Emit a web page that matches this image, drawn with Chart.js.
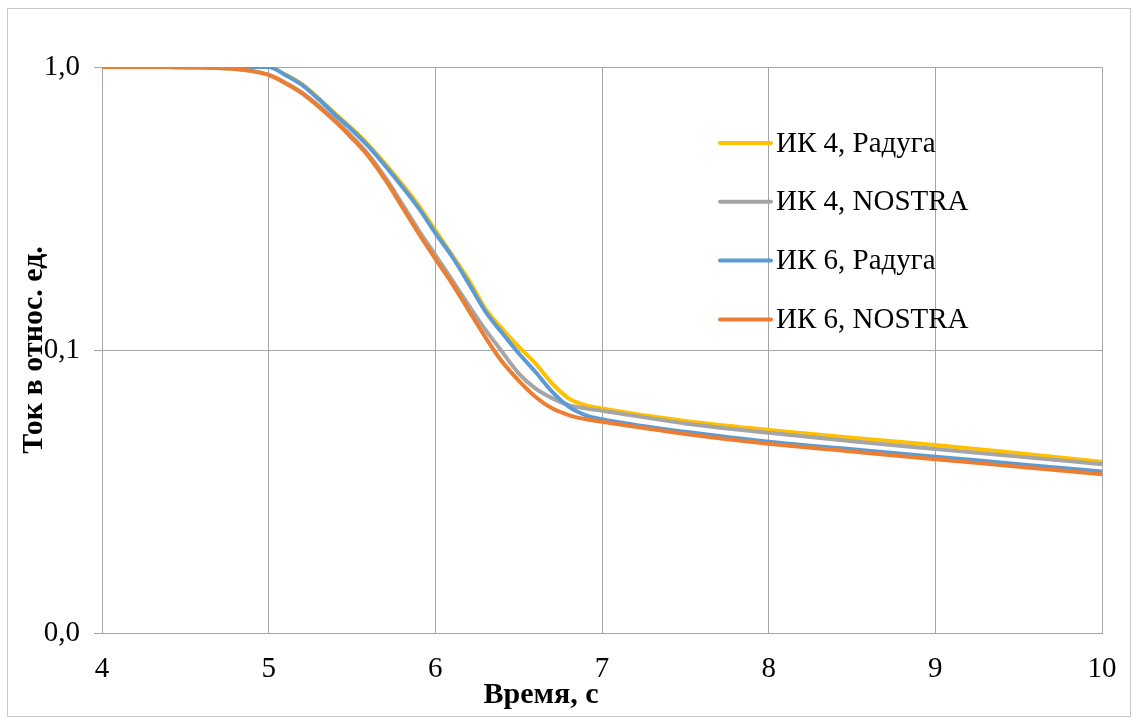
<!DOCTYPE html>
<html>
<head>
<meta charset="utf-8">
<title>Ток в относ. ед.</title>
<script src="https://cdn.jsdelivr.net/npm/chart.js@4.4.1/dist/chart.umd.min.js"></script>
<style>
  html, body { margin: 0; padding: 0; background: #fff; }
</style>
</head>
<body>
<canvas id="current_chart" width="1138" height="724"></canvas>
<script>
// time, s
let times = [4.0, 4.2, 4.4, 4.6, 4.7, 4.8, 4.9, 5.0, 5.1, 5.2, 5.3, 5.4, 5.5, 5.6, 5.7, 5.8, 5.9,
             6.0, 6.1, 6.2, 6.3, 6.4, 6.5, 6.6, 6.7, 6.8, 6.9, 7.0, 7.5, 8.0, 8.5, 9.0, 9.5, 10.0];

let ik4_raduga = [1.0, 1.0, 1.0, 1.0, 1.0, 1.0, 1.0, 1.0, 0.940, 0.870, 0.776, 0.684, 0.606, 0.530, 0.455, 0.386, 0.324,
                  0.265, 0.217, 0.177, 0.140, 0.119, 0.1027, 0.0897, 0.0763, 0.0675, 0.0639, 0.0622, 0.0561, 0.0522, 0.0490, 0.0462, 0.0432, 0.0403];
let ik4_nostra = [1.0, 1.0, 0.999, 0.996, 0.991, 0.984, 0.969, 0.939, 0.880, 0.812, 0.731, 0.648, 0.568, 0.490, 0.407, 0.329, 0.265,
                  0.217, 0.177, 0.144, 0.118, 0.0987, 0.0827, 0.0732, 0.0676, 0.0639, 0.0622, 0.0610, 0.0550, 0.0510, 0.0476, 0.0447, 0.0420, 0.0395];
let ik6_raduga = [1.0, 1.0, 1.0, 1.0, 1.0, 1.0, 1.0, 1.0, 0.937, 0.864, 0.769, 0.677, 0.599, 0.523, 0.447, 0.378, 0.317,
                  0.259, 0.214, 0.172, 0.137, 0.115, 0.0974, 0.0838, 0.0713, 0.0631, 0.0589, 0.0569, 0.0514, 0.0474, 0.0446, 0.0420, 0.0395, 0.0372];
let ik6_nostra = [1.0, 1.0, 0.999, 0.996, 0.991, 0.984, 0.968, 0.937, 0.876, 0.807, 0.724, 0.641, 0.560, 0.482, 0.399, 0.321, 0.258,
                  0.210, 0.172, 0.138, 0.111, 0.091, 0.078, 0.0684, 0.0622, 0.0589, 0.0570, 0.0558, 0.0505, 0.0466, 0.0438, 0.0411, 0.0387, 0.0364];

let series_names = ["ИК 4, Радуга", "ИК 4, NOSTRA", "ИК 6, Радуга", "ИК 6, NOSTRA"];
let series_colors = ["#ffc000", "#a5a5a5", "#5b9bd5", "#ed7d31"];

let x_ticks = [4, 5, 6, 7, 8, 9, 10];
let y_tick_values = [0.01, 0.1, 1];
let y_tick_labels = ["0,0", "0,1", "1,0"];

let x_title = "Время, с";
let y_title = "Ток в относ. ед.";

const FONT = '"Liberation Serif", "Times New Roman", serif';
const GRID = "#a6a6a6";

function to_points(values) {
    return times.map(function (t, i) { return { x: t, y: values[i] }; });
}

// frame, axis titles and the legend box inside the plot
const decor = {
    id: "decor",
    beforeDraw: function (chart) {
        let c = chart.ctx;
        c.save();
        c.fillStyle = "#fff";
        c.fillRect(0, 0, chart.width, chart.height);
        c.strokeStyle = "#c8c8c8";
        c.lineWidth = 1;
        c.strokeRect(7.5, 8.5, 1123, 708);
        c.restore();
    },
    afterDraw: function (chart) {
        let c = chart.ctx,
            area = chart.chartArea;
        c.save();
        c.fillStyle = "#000";
        c.font = "bold 30px " + FONT;
        c.textAlign = "center";
        c.textBaseline = "middle";
        c.fillText(x_title, 541, 695);
        c.translate(34, (area.top + area.bottom) / 2);
        c.rotate(-Math.PI / 2);
        c.fillText(y_title, 0, 0);
        c.restore();

        c.save();
        c.font = "29px " + FONT;
        c.textBaseline = "middle";
        c.lineCap = "round";
        series_names.forEach(function (name, i) {
            let y = 143 + i * 58.8;
            c.strokeStyle = series_colors[i];
            c.lineWidth = 4;
            c.beginPath();
            c.moveTo(720, y);
            c.lineTo(771, y);
            c.stroke();
            c.fillStyle = "#000";
            c.fillText(name, 776, y + 1);
        });
        c.restore();
    }
};

function plot_chart(chart_id) {
    let all_series = [ik4_raduga, ik4_nostra, ik6_raduga, ik6_nostra];
    let ctx = document.getElementById(chart_id).getContext("2d");

    let datasets = all_series.map(function (values, i) {
        return {
            label: series_names[i],
            data: to_points(values),
            borderColor: series_colors[i],
            backgroundColor: series_colors[i],
            borderWidth: 4,
            pointRadius: 0,
            fill: false,
            cubicInterpolationMode: "monotone",
            order: 3 - i   // orange drawn on top, like the original
        };
    });

    let config = {
        type: "line",
        data: { datasets: datasets },
        plugins: [decor],
        options: {
            responsive: false,
            animation: false,
            layout: { padding: { left: 0, right: 36, top: 67, bottom: 0 } },
            plugins: {
                legend: { display: false },
                title: { display: false },
                tooltip: { enabled: false }
            },
            scales: {
                x: {
                    type: "linear",
                    min: x_ticks[0],
                    max: x_ticks[x_ticks.length - 1],
                    afterBuildTicks: function (scale) {
                        scale.ticks = x_ticks.map(function (v) { return { value: v }; });
                    },
                    afterFit: function (scale) { scale.height = 91; },
                    ticks: {
                        color: "#000",
                        font: { family: FONT, size: 29 },
                        padding: 19,
                        maxRotation: 0,
                        callback: function (v) { return String(v); }
                    },
                    grid: { color: GRID, lineWidth: 1, drawTicks: false },
                    border: { color: GRID, width: 1 }
                },
                y: {
                    type: "logarithmic",
                    min: y_tick_values[0],
                    max: y_tick_values[y_tick_values.length - 1],
                    afterBuildTicks: function (scale) {
                        scale.ticks = y_tick_values.map(function (v) { return { value: v }; });
                    },
                    afterFit: function (scale) { scale.width = 102; },
                    ticks: {
                        color: "#000",
                        font: { family: FONT, size: 29 },
                        padding: 14,
                        callback: function (v) {
                            let k = y_tick_values.findIndex(function (t) { return Math.abs(t - v) < 1e-9; });
                            return k >= 0 ? y_tick_labels[k] : "";
                        }
                    },
                    grid: { color: GRID, lineWidth: 1, tickLength: 8 },
                    border: { color: GRID, width: 1 }
                }
            }
        }
    };

    new Chart(ctx, config);
}

plot_chart("current_chart");
</script>
</body>
</html>
